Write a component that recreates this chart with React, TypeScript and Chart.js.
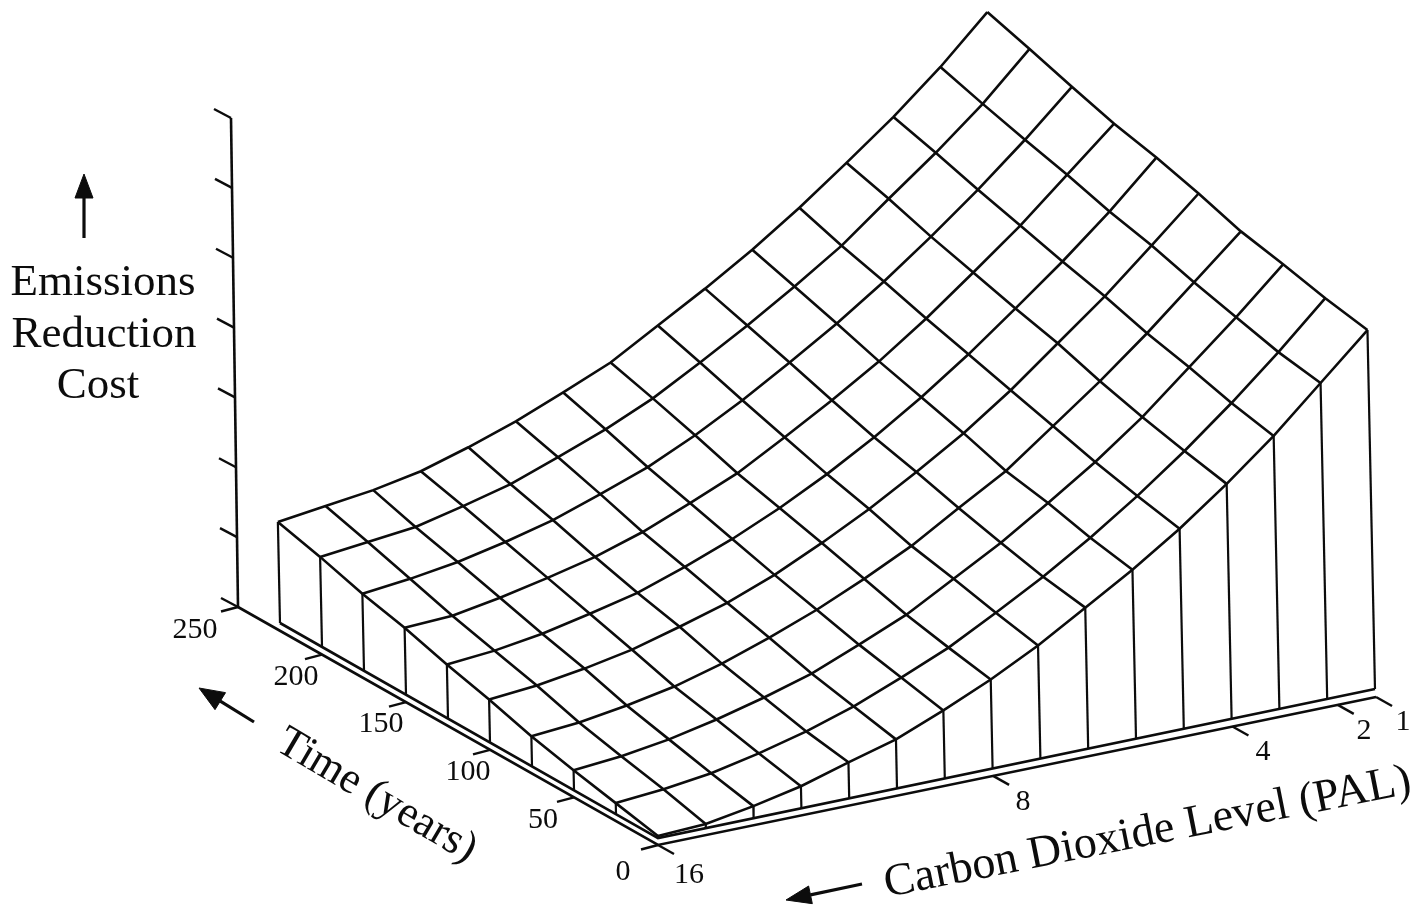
import React, { useEffect, useRef } from "react";
import { Chart, registerables } from "chart.js";

Chart.register(...registerables);

// Surface height (emissions reduction cost).
// One list per time row, back (250 yr) to front (0 yr); each runs from 16 PAL to 1 PAL.
const costRow0 = [101, 107, 113, 122, 136, 152, 171, 191, 218, 245, 274, 306, 341, 377, 417, 462];
const costRow1 = [90, 95, 100, 111, 123, 140, 158, 179, 205, 232, 261, 292, 329, 365, 404, 449];
const costRow2 = [77, 82, 89, 99, 111, 127, 144, 166, 191, 219, 248, 280, 315, 352, 392, 435];
const costRow3 = [67, 69, 77, 87, 98, 113, 132, 152, 178, 205, 234, 267, 303, 340, 381, 422];
const costRow4 = [54, 58, 65, 75, 86, 102, 120, 141, 165, 192, 222, 255, 291, 328, 368, 412];
const costRow5 = [43, 47, 54, 63, 76, 90, 108, 130, 154, 181, 210, 243, 280, 317, 358, 400];
const costRow6 = [30, 34, 41, 50, 63, 79, 97, 118, 141, 169, 196, 231, 266, 304, 345, 386];
const costRow7 = [20, 24, 31, 41, 53, 67, 86, 106, 132, 158, 188, 219, 254, 294, 334, 377];
const costRow8 = [11, 15, 21, 31, 43, 58, 77, 97, 122, 148, 177, 209, 244, 282, 323, 367];
const costRow9 = [2, 4, 12, 22, 36, 49, 68, 89, 113, 141, 169, 200, 235, 273, 316, 359];
const costRows = [costRow0, costRow1, costRow2, costRow3, costRow4, costRow5, costRow6, costRow7, costRow8, costRow9];

const timeTicks = [250, 200, 150, 100, 50, 0];
const timeTickLabels = ["250", "200", "150", "100", "50", "0"];
const co2TickLabels = ["1", "2", "4", "8", "16"];
const co2TickGridPos = [15, 14.2, 12, 7, 0];
const costTickSteps = [0, 1, 2, 3, 4, 5, 6, 7];
const yAxisTitle = ["Emissions", "Reduction", "Cost"];
const timeTitle = "Time (years)";
const co2Title = "Carbon Dioxide Level (PAL)";

const W = 1426;
const H = 914;
const FONT = '"Liberation Serif", "Times New Roman", serif';
const INK = "#0c0c0c";

type P = { x: number; y: number };

// oblique projection of (co2 index, time index, height) to the page
const project = (i: number, j: number, z: number): P => ({
  x: 280 + 47.8 * i + 42 * j - 0.021 * z,
  y: 623 - 9.93 * i + 23.89 * j - z,
});
const timeBase = (t: number): P => ({ x: 238 + (420 * (250 - t)) / 250, y: 607 + (238 * (250 - t)) / 250 });
const co2Base = (g: number): P => ({ x: 658 + 47.87 * g, y: 845 - 9.87 * g });

const seg = (pts: P[], width = 2.6, extra: object = {}) => ({
  data: pts,
  showLine: true,
  borderColor: INK,
  borderWidth: width,
  pointRadius: 0,
  tension: 0,
  ...extra,
});

const arrow = (tail: P, tip: P, len: number, half: number) => {
  const dx = tip.x - tail.x;
  const dy = tip.y - tail.y;
  const n = Math.hypot(dx, dy);
  const ux = dx / n;
  const uy = dy / n;
  const bx = tip.x - ux * len;
  const by = tip.y - uy * len;
  return [
    seg([tail, { x: bx, y: by }], 3.2),
    seg(
      [
        tip,
        { x: bx - uy * half, y: by + ux * half },
        { x: bx + uy * half, y: by - ux * half },
        tip,
      ],
      1,
      { fill: "shape", backgroundColor: INK }
    ),
  ];
};

const buildDatasets = () => {
  const out: any[] = [];
  const nI = costRows[0].length;
  const nJ = costRows.length;
  // curtain verticals
  for (let i = 0; i < nI; i++) {
    if (costRows[nJ - 1][i] > 0) out.push(seg([project(i, nJ - 1, costRows[nJ - 1][i]), project(i, nJ - 1, 0)], 2.2));
  }
  for (let j = 0; j < nJ - 1; j++) out.push(seg([project(0, j, costRows[j][0]), project(0, j, 0)], 2.2));
  // surface mesh
  for (let j = 0; j < nJ; j++) out.push(seg(costRows[j].map((z, i) => project(i, j, z))));
  for (let i = 0; i < nI; i++) out.push(seg(costRows.map((r, j) => project(i, j, r[i]))));
  // floor edges
  out.push(seg([project(0, 0, 0), project(0, nJ - 1, 0), project(nI - 1, nJ - 1, 0)], 2.6));
  out.push(seg([timeBase(250), timeBase(0), co2Base(15)], 2.6));
  // height axis
  const axisTop: P = { x: 231, y: 118 };
  const axisBottom: P = timeBase(250);
  out.push(seg([axisTop, axisBottom], 2.6));
  costTickSteps.forEach((s) => {
    const f = s / (costTickSteps.length - 1);
    const a = { x: axisTop.x + (axisBottom.x - axisTop.x) * f, y: axisTop.y + (axisBottom.y - axisTop.y) * f };
    out.push(seg([a, { x: a.x - 17, y: a.y - 9 }], 2.4));
  });
  // time ticks
  timeTicks.forEach((t) => {
    const a = timeBase(t);
    out.push(seg([a, { x: a.x - 17, y: a.y + 4.5 }], 2.4));
  });
  // co2 ticks
  co2TickGridPos.forEach((g) => {
    const a = co2Base(g);
    out.push(seg([a, { x: a.x + 16, y: a.y + 9 }], 2.4));
  });
  // direction arrows
  out.push(...arrow({ x: 84, y: 238 }, { x: 84, y: 174 }, 24, 9));
  out.push(...arrow({ x: 254, y: 722 }, { x: 199, y: 688 }, 25, 10));
  out.push(...arrow({ x: 862, y: 884 }, { x: 786, y: 900 }, 25, 9));
  return out;
};

const labelsPlugin = {
  id: "figureText",
  afterDraw(chart: any) {
    const ctx = chart.ctx as CanvasRenderingContext2D;
    const px = (x: number) => chart.scales.x.getPixelForValue(x);
    const py = (y: number) => chart.scales.y.getPixelForValue(y);
    const put = (s: string, x: number, y: number, size: number, rot = 0, align: CanvasTextAlign = "center", baseline: CanvasTextBaseline = "alphabetic") => {
      ctx.save();
      ctx.translate(px(x), py(y));
      ctx.rotate((rot * Math.PI) / 180);
      ctx.font = `${size}px ${FONT}`;
      ctx.fillStyle = INK;
      ctx.textAlign = align;
      ctx.textBaseline = baseline;
      ctx.fillText(s, 0, 0);
      ctx.restore();
    };
    const timePos = [
      [195, 638],
      [296, 685],
      [381, 732],
      [468, 780],
      [543, 828],
      [623, 880],
    ];
    timeTickLabels.forEach((s, k) => put(s, timePos[k][0], timePos[k][1], 30));
    const co2Pos = [
      [1403, 730],
      [1364, 739],
      [1263, 760],
      [1023, 810],
      [689, 883],
    ];
    co2TickLabels.forEach((s, k) => put(s, co2Pos[k][0], co2Pos[k][1], 30));
    put(yAxisTitle[0], 103, 295, 45);
    put(yAxisTitle[1], 104, 347, 45);
    put(yAxisTitle[2], 98, 398, 45);
    put(timeTitle, 274, 749, 44, 30.5, "left");
    put(co2Title, 887, 897, 46, -11.2, "left");
  },
};

export default function App() {
  const ref = useRef<HTMLCanvasElement | null>(null);
  useEffect(() => {
    if (!ref.current) return;
    document.body.style.margin = "0";
    document.body.style.background = "#fff";
    const chart = new Chart(ref.current, {
      type: "scatter",
      data: { datasets: buildDatasets() },
      options: {
        animation: false,
        responsive: false,
        devicePixelRatio: 1,
        layout: { padding: 0 },
        plugins: { legend: { display: false }, tooltip: { enabled: false }, title: { display: false } },
        scales: {
          x: { type: "linear", min: 0, max: W, display: false },
          y: { type: "linear", min: 0, max: H, reverse: true, display: false },
        },
      },
      plugins: [labelsPlugin],
    } as any);
    return () => chart.destroy();
  }, []);
  return (
    <div style={{ position: "absolute", left: 0, top: 0, width: W, height: H, background: "#fff", overflow: "hidden" }}>
      <canvas ref={ref} width={W} height={H} style={{ display: "block", width: W, height: H }} />
    </div>
  );
}
